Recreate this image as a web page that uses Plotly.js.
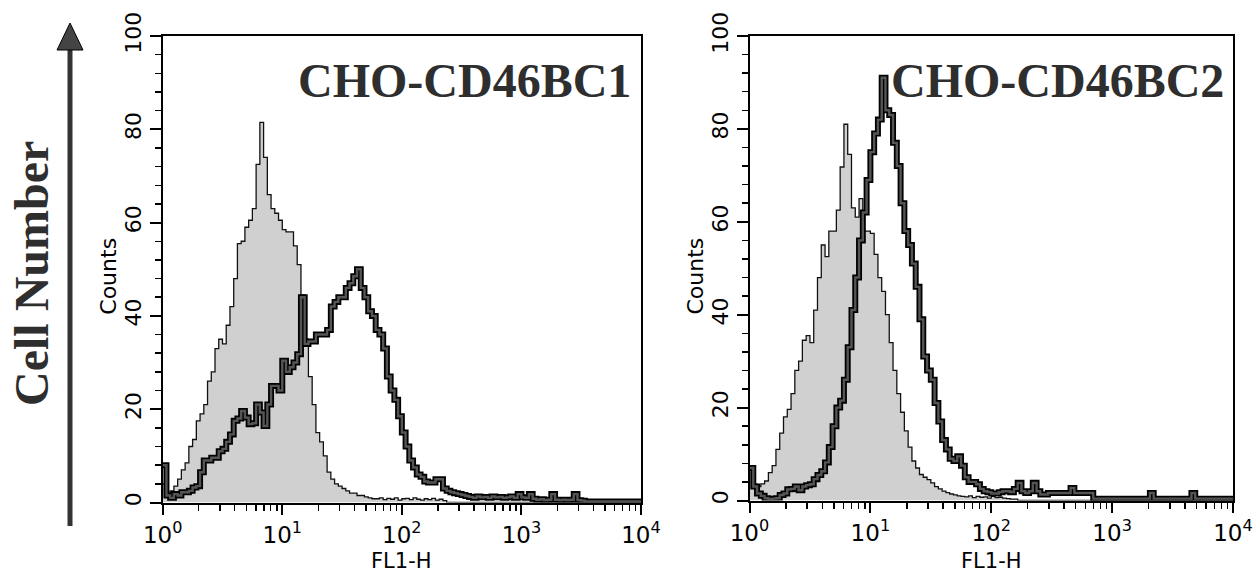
<!DOCTYPE html>
<html>
<head>
<meta charset="utf-8">
<script src="https://cdn.plot.ly/plotly-3.0.1.min.js"></script>
<style>html,body{margin:0;padding:0;background:#fff;}#chart{width:1259px;height:572px;}</style>
</head>
<body>
<div id="chart"></div>
<script>
// ---- data: histogram counts per channel (32 channels per decade, 10^0 .. 10^4) ----
const CHANNELS_PER_DECADE = 32;

// CHO-CD46BC1, control (grey filled)
const bc1Control = [
 4, 2, 2.5, 3.5, 5, 7, 8.5, 12, 13.5, 17.5,
 19, 21, 26, 28, 33, 35, 34, 38, 42, 48,
 55.5, 56, 59, 60.5, 63, 72.5, 81.5, 74, 66, 63,
 62, 60.5, 58.5, 58, 58, 55, 51, 44.5, 35, 27,
 21, 15, 13, 10, 6.5, 5, 4, 3.5, 3, 2.5,
 2, 2, 1.5, 1.5, 1.2, 1, 0.8, 0.8, 1, 0.6,
 0.9, 0.7, 1, 0.5, 0.8, 0.9, 0.6, 1, 0.7, 0.5,
 0.8, 0.6, 0.9, 0.5, 0.7, 0.4, 0, 0, 0, 0,
 0, 0, 0, 0, 0, 0, 0, 0, 0, 0,
 0, 0, 0, 0, 0, 0, 0, 0, 0, 0,
 0, 0, 0, 0, 0, 0, 0, 0, 0, 0,
 0, 0, 0, 0, 0, 0, 0, 0, 0, 0,
 0, 0, 0, 0, 0, 0, 0, 0
];
// CHO-CD46BC1, stained (thick dark outline)
const bc1Stained = [
 8, 1.5, 1, 1.8, 1.5, 2.2, 2.2, 2.5, 3.2, 3.5,
 6.5, 9, 9, 9.6, 9.6, 11, 11.5, 13, 14.6, 17.5,
 18, 19.6, 18.2, 16.8, 17, 21, 19.3, 16.4, 21, 25,
 25, 24, 30.4, 28, 29, 30, 31.8, 44, 34, 34.5,
 34.5, 36, 36, 36, 37, 42, 43, 44, 44, 46,
 47, 48.5, 50, 46, 44, 41, 40, 37, 36, 33,
 27, 24, 22, 18.5, 15, 12, 9, 7.5, 6, 5.5,
 4.5, 4.3, 4.3, 5, 5, 3, 2.5, 2.2, 2, 1.8,
 1.6, 1.4, 1.2, 1.0, 1.3, 1.1, 1.2, 1.0, 1.3, 1.1,
 1.2, 1.0, 1.1, 1.3, 1.0, 1.8, 1.1, 1.0, 1.8, 0.8,
 0.6, 0.7, 0.5, 0.6, 1.8, 0.6, 0.5, 0.6, 0.5, 0.6,
 1.8, 0.5, 0.4, 0.2, 0.2, 0.2, 0.2, 0.2, 0.2, 0.2,
 0.2, 0.2, 0.2, 0.2, 0.2, 0.2, 0.2, 0.2
];
// CHO-CD46BC2, control (grey filled)
const bc2Control = [
 7, 3.5, 3, 3.6, 4.2, 6, 7.5, 11, 14.5, 18,
 19.6, 23, 28, 30, 34.5, 35.5, 34, 41, 48, 55,
 52.5, 58, 58, 62.5, 71.8, 81, 74.5, 63, 61, 65,
 58, 58, 57.5, 53, 48, 45, 40, 34, 28, 23,
 19, 15, 11.5, 8.5, 7, 5.6, 5, 4.5, 3.8, 3,
 2.5, 2, 1.7, 1.4, 1.2, 1, 0.9, 0.8, 1, 0.6,
 0.9, 0.7, 0.8, 0.5, 0.9, 0.6, 0.7, 0.5, 0.4, 0.3,
 0.3, 0, 0, 0, 0, 0, 0, 0, 0, 0,
 0, 0, 0, 0, 0, 0, 0, 0, 0, 0,
 0, 0, 0, 0, 0, 0, 0, 0, 0, 0,
 0, 0, 0, 0, 0, 0, 0, 0, 0, 0,
 0, 0, 0, 0, 0, 0, 0, 0, 0, 0,
 0, 0, 0, 0, 0, 0, 0, 0
];
// CHO-CD46BC2, stained (thick dark outline)
const bc2Stained = [
 7, 3, 1.5, 1, 0.5, 0.3, 0.4, 0.5, 1.2, 1.5,
 2.4, 2.5, 3, 2.2, 3, 3.3, 3.5, 4.6, 5.5, 6.3,
 8.2, 11.5, 16, 20, 21.5, 26, 33, 41, 48, 56,
 62, 69, 75, 79, 82, 91, 84, 83, 77, 72,
 64, 58, 55, 51, 46, 39, 31, 28, 26, 21,
 17, 13, 11, 9, 8.5, 9.5, 7.5, 5, 4, 4,
 3.5, 2.5, 2, 1.8, 1.5, 1.5, 1.8, 2, 2, 1.8,
 2.5, 3.8, 2, 1.6, 2, 3.8, 2, 1.3, 1.3, 1.6,
 1.6, 1.6, 1.6, 1.6, 1.6, 2.7, 1.6, 1.6, 1.6, 1.6,
 1.6, 0.4, 0.4, 0.4, 0.4, 0.4, 0.4, 0.4, 0.4, 0.4,
 0.4, 0.4, 0.4, 0.4, 0.4, 0.4, 1.6, 0.4, 0.4, 0.4,
 0.4, 0.4, 0.4, 0.4, 0.4, 0.4, 0.4, 1.6, 0.4, 0.4,
 0.4, 0.4, 0.4, 0.4, 0.4, 0.4, 0.4, 0.4
];

const panelTitles = ['CHO-CD46BC1', 'CHO-CD46BC2'];
const sideLabel = 'Cell Number';
const xTickValues = [1, 10, 100, 1000, 10000];
const xTickLabels = ['10<sup>0</sup>', '10<sup>1</sup>', '10<sup>2</sup>', '10<sup>3</sup>', '10<sup>4</sup>'];
const xMinorDigits = [2, 3, 4, 5, 6, 7, 8, 9];
const yTickValues = [0, 20, 40, 60, 80, 100];
const yMinorStep = 4;
const xAxisTitle = 'FL1-H';
const yAxisTitle = 'Counts';

// ---- helpers ----
function stepXY(counts) {
  const x = [], y = [];
  counts.forEach((c, i) => { x.push(Math.pow(10, i / CHANNELS_PER_DECADE)); y.push(c); });
  x.push(Math.pow(10, counts.length / CHANNELS_PER_DECADE));
  y.push(counts[counts.length - 1]);
  return {x, y};
}
const xMinorVals = [];
for (let d = 0; d < 4; d++) xMinorDigits.forEach(k => xMinorVals.push(k * Math.pow(10, d)));
const yMinorVals = [];
for (let v = 0; v <= 100; v += yMinorStep) yMinorVals.push(v);

function controlTrace(counts, xa, ya) {
  const s = stepXY(counts);
  return {x: s.x, y: s.y, xaxis: xa, yaxis: ya, type: 'scatter', mode: 'lines',
    line: {shape: 'hv', color: '#111', width: 1.3}, fill: 'tozeroy', fillcolor: '#d0d0d0',
    hoverinfo: 'skip', showlegend: false};
}
function stainedTraces(counts, xa, ya) {
  const s = stepXY(counts);
  return [
    {x: s.x, y: s.y, xaxis: xa, yaxis: ya, type: 'scatter', mode: 'lines',
      line: {shape: 'hv', color: '#000', width: 6}, hoverinfo: 'skip', showlegend: false},
    {x: s.x, y: s.y, xaxis: xa, yaxis: ya, type: 'scatter', mode: 'lines',
      line: {shape: 'hv', color: '#555', width: 2.4}, hoverinfo: 'skip', showlegend: false}
  ];
}

const data = [
  controlTrace(bc1Control, 'x', 'y'),
  ...stainedTraces(bc1Stained, 'x', 'y'),
  controlTrace(bc2Control, 'x2', 'y2'),
  ...stainedTraces(bc2Stained, 'x2', 'y2')
];

const tickFamily = 'DejaVu Sans, Liberation Sans, sans-serif';
function xAxis(domain, anchor) {
  return {
    type: 'log', range: [0, 4], domain: domain, anchor: anchor,
    showline: true, linecolor: '#000', linewidth: 2, mirror: true,
    ticks: 'outside', ticklen: 10, tickwidth: 2, tickcolor: '#000',
    tickmode: 'array', tickvals: xTickValues, ticktext: xTickLabels,
    ticklabelstandoff: 1,
    tickfont: {family: tickFamily, size: 23, color: '#000'},
    minor: {tickmode: 'array', tickvals: xMinorVals, ticks: 'outside', ticklen: 6, tickwidth: 1.5, tickcolor: '#000', showgrid: false},
    showgrid: false, zeroline: false, fixedrange: true
  };
}
function xMinorAxis(over, anchor) {
  return {
    type: 'log', range: [0, 4], overlaying: over, anchor: anchor, side: 'bottom',
    showline: false, ticks: 'outside', ticklen: 6, tickwidth: 1.5, tickcolor: '#000',
    tickmode: 'array', tickvals: xMinorVals, showticklabels: false,
    showgrid: false, zeroline: false, fixedrange: true
  };
}
function yAxis(domain, anchor) {
  return {
    range: [0, 100], domain: domain, anchor: anchor,
    showline: true, linecolor: '#000', linewidth: 2, mirror: true,
    ticks: 'outside', ticklen: 11, tickwidth: 2, tickcolor: '#000',
    tickmode: 'array', tickvals: yTickValues, tickangle: -90,
    tickfont: {family: tickFamily, size: 22, color: '#000'},
    minor: {tickmode: 'array', tickvals: yMinorVals, ticks: 'outside', ticklen: 6, tickwidth: 1.5, tickcolor: '#000', showgrid: false},
    showgrid: false, zeroline: false, fixedrange: true
  };
}
function yMinorAxis(over, anchor) {
  return {
    range: [0, 100], overlaying: over, anchor: anchor, side: 'left',
    showline: false, ticks: 'outside', ticklen: 6, tickwidth: 1.5, tickcolor: '#000',
    tickmode: 'array', tickvals: yMinorVals, showticklabels: false,
    showgrid: false, zeroline: false, fixedrange: true
  };
}

const W = 1259, H = 572;
const px = v => v / W, py = v => 1 - v / H;
const serif = 'Liberation Serif, DejaVu Serif, serif';
const L = {x0: 162.7, x1: 641, y0: 502.5, y1: 36};
const R = {x0: 749.5, x1: 1233, y0: 500.5, y1: 36};

const annotations = [];
[[L, panelTitles[0], 633], [R, panelTitles[1], 1226]].forEach(([P, title, xr]) => {
  annotations.push({text: '<b>' + title + '</b>', xref: 'paper', yref: 'paper', x: px(xr), y: py(80),
    xanchor: 'right', yanchor: 'middle', showarrow: false,
    font: {family: serif, size: 48, color: '#2e2e2e'}});
  annotations.push({text: yAxisTitle, xref: 'paper', yref: 'paper', x: px(P.x0 - 55), y: py(276),
    xanchor: 'center', yanchor: 'middle', textangle: -90, showarrow: false,
    font: {family: tickFamily, size: 22, color: '#000'}});
  annotations.push({text: xAxisTitle, xref: 'paper', yref: 'paper', x: px((P.x0 + P.x1) / 2), y: py(561),
    xanchor: 'center', yanchor: 'middle', showarrow: false,
    font: {family: tickFamily, size: 21, color: '#000'}});
});
annotations.push({text: '<b>' + sideLabel + '</b>', xref: 'paper', yref: 'paper', x: px(32), y: py(274),
  xanchor: 'center', yanchor: 'middle', textangle: -90, showarrow: false,
  font: {family: serif, size: 48, color: '#2e2e2e'}});

const layout = {
  width: W, height: H,
  margin: {l: 0, r: 0, t: 0, b: 0},
  paper_bgcolor: '#fff', plot_bgcolor: '#fff',
  xaxis: xAxis([px(L.x0), px(L.x1)], 'y'),
  yaxis: yAxis([py(L.y0), py(L.y1)], 'x'),
  xaxis2: xAxis([px(R.x0), px(R.x1)], 'y2'),
  yaxis2: yAxis([py(R.y0), py(R.y1)], 'x2'),
  xaxis3: xMinorAxis('x', 'y'),
  yaxis3: yMinorAxis('y', 'x'),
  xaxis4: xMinorAxis('x2', 'y2'),
  yaxis4: yMinorAxis('y2', 'x2'),
  annotations: annotations,
  shapes: [
    {type: 'line', xref: 'paper', yref: 'paper', x0: px(70), x1: px(70), y0: py(526), y1: py(46),
      line: {color: '#333', width: 5}},
    {type: 'path', xref: 'paper', yref: 'paper',
      path: 'M ' + px(57) + ' ' + py(50) + ' L ' + px(83) + ' ' + py(50) + ' L ' + px(70) + ' ' + py(23) + ' Z',
      fillcolor: '#444', line: {color: '#000', width: 1}}
  ]
};

Plotly.newPlot('chart', data, layout, {displayModeBar: false, staticPlot: true});
</script>
</body>
</html>
